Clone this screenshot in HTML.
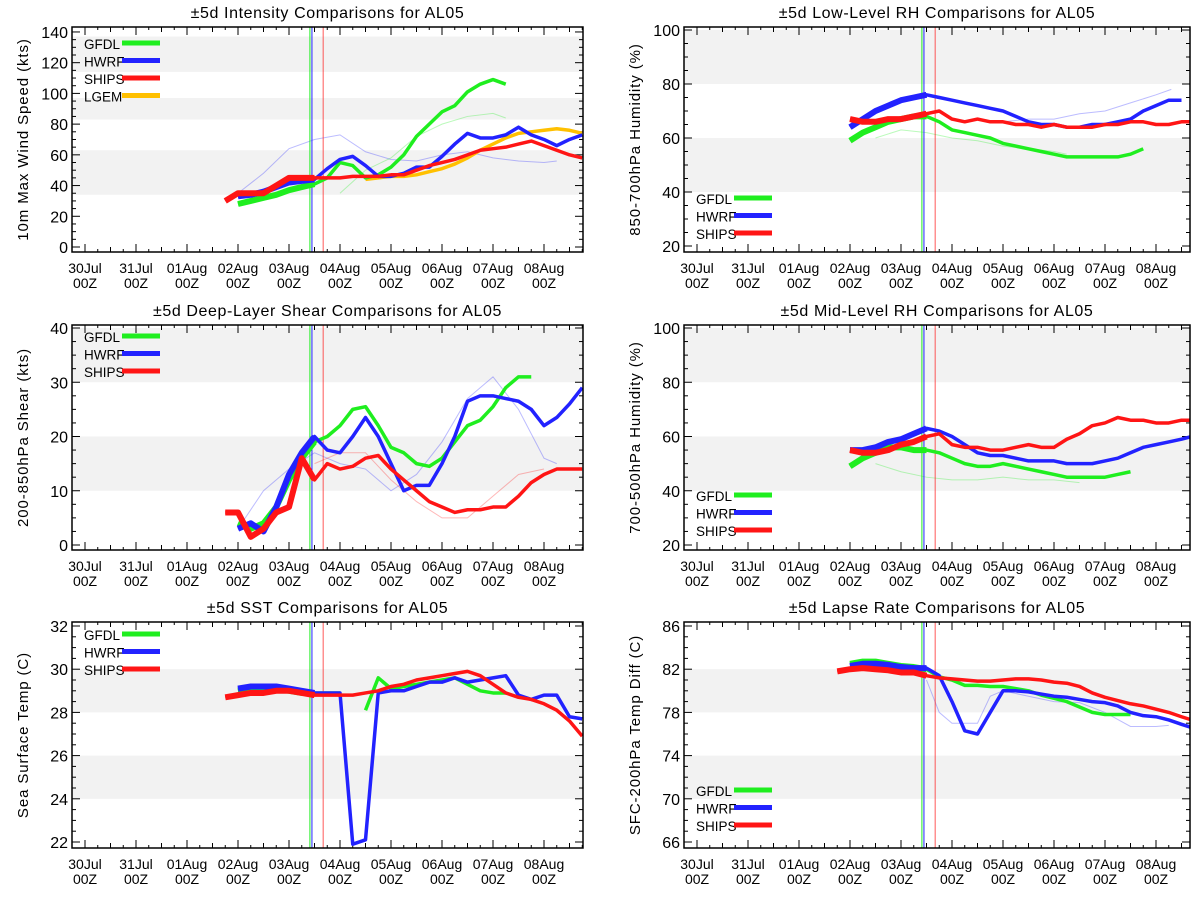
<!DOCTYPE html>
<html><head><meta charset="utf-8">
<style>
html,body{margin:0;padding:0;background:#fff;}
svg{display:block;font-family:"Liberation Sans","DejaVu Sans",sans-serif;}
</style></head>
<body>
<svg id="chart" width="1200" height="900" viewBox="0 0 1200 900" xmlns="http://www.w3.org/2000/svg"></svg>
<script>
// ---------- data (x = days since 30Jul 00Z) ----------
const dayLabels = ["30Jul","31Jul","01Aug","02Aug","03Aug","04Aug","05Aug","06Aug","07Aug","08Aug"];
const vlineDays = [4.41, 4.45, 4.67];

const p1Titles = ["±5d Intensity Comparisons for AL05","10m Max Wind Speed (kts)"];
const p1Ticks = [0,20,40,60,80,100,120,140];
const p1Bands = [[34,63],[83,97],[114,137]];
const p1GFDLx = [3,3.25,3.5,3.75,4,4.25,4.5,4.75,5,5.25,5.5,5.75,6,6.25,6.5,6.75,7,7.25,7.5,7.75,8,8.25];
const p1GFDL = [28,30,32,34,37,39,41,45,55,53,45,47,52,60,72,80,88,92,101,106,109,106];
const p1HWRFx = [3,3.25,3.5,3.75,4,4.25,4.5,4.75,5,5.25,5.5,5.75,6,6.25,6.5,6.75,7,7.25,7.5,7.75,8,8.25,8.5,8.75,9,9.25,9.5,9.75];
const p1HWRF = [33,34,36,39,42,43,44,51,57,59,53,46,46,48,52,52,59,67,74,71,71,73,78,73,70,66,70,73];
const p1SHIPSx = [2.75,3,3.25,3.5,3.75,4,4.25,4.5,4.75,5,5.25,5.5,5.75,6,6.25,6.5,6.75,7,7.25,7.5,7.75,8,8.25,8.5,8.75,9,9.25,9.5,9.75];
const p1SHIPS = [30,35,35,35,40,45,45,45,45,45,46,46,46,47,47,50,53,55,57,60,63,64,65,67,69,66,63,60,58];
const p1LGEMx = [5.5,5.75,6,6.25,6.5,6.75,7,7.25,7.5,7.75,8,8.25,8.5,8.75,9,9.25,9.5,9.75];
const p1LGEM = [44,45,46,46,47,49,51,54,58,63,67,71,74,75,76,77,76,74];
const p1FaintBx = [3,3.5,4,4.5,5,5.5,6,6.5,7,7.5,8,8.5,9,9.25];
const p1FaintB = [35,48,64,70,73,62,57,56,60,62,58,56,55,56];
const p1FaintGx = [5,5.5,6,6.5,7,7.5,8,8.25];
const p1FaintG = [35,50,58,72,80,85,87,84];

const p2Titles = ["±5d Low-Level RH Comparisons for AL05","850-700hPa Humidity (%)"];
const p2Ticks = [20,40,60,80,100];
const p2Bands = [[40,60],[80,100]];
const p2GFDLx = [3,3.25,3.5,3.75,4,4.25,4.5,4.75,5,5.25,5.5,5.75,6,6.25,6.5,6.75,7,7.25,7.5,7.75,8,8.25,8.5,8.75];
const p2GFDL = [59,62,64,66,67,68,68,66,63,62,61,60,58,57,56,55,54,53,53,53,53,53,54,56];
const p2HWRFx = [3,3.25,3.5,3.75,4,4.25,4.5,4.75,5,5.25,5.5,5.75,6,6.25,6.5,6.75,7,7.25,7.5,7.75,8,8.25,8.5,8.75,9,9.25,9.5];
const p2HWRF = [64,67,70,72,74,75,76,75,74,73,72,71,70,68,66,65,65,64,64,65,65,66,67,70,72,74,74];
const p2SHIPSx = [3,3.25,3.5,3.75,4,4.25,4.5,4.75,5,5.25,5.5,5.75,6,6.25,6.5,6.75,7,7.25,7.5,7.75,8,8.25,8.5,8.75,9,9.25,9.5,9.7];
const p2SHIPS = [67,66,66,67,67,68,69,70,67,66,67,66,66,65,65,64,65,64,64,64,65,65,66,66,65,65,66,66];
const p2FaintBx = [6,6.5,7,7.5,8,8.5,9,9.3];
const p2FaintB = [66,67,67,69,70,73,76,78];
const p2FaintGx = [3.5,4,4.5,5,5.5,6,6.5,7,7.25];
const p2FaintG = [60,63,62,60,59,57,56,55,54];

const p3Titles = ["±5d Deep-Layer Shear Comparisons for AL05","200-850hPa Shear (kts)"];
const p3Ticks = [0,10,20,30,40];
const p3Bands = [[10,20],[30,40]];
const p3GFDLx = [3,3.25,3.5,3.75,4,4.25,4.5,4.75,5,5.25,5.5,5.75,6,6.25,6.5,6.75,7,7.25,7.5,7.75,8,8.25,8.5,8.75];
const p3GFDL = [4,3,4,7,12,16,19,20,22,25,25.5,22,18,17,15,14.5,16,19,22,23,25.5,29,31,31];
const p3HWRFx = [3,3.25,3.5,3.75,4,4.25,4.5,4.75,5,5.25,5.5,5.75,6,6.25,6.5,6.75,7,7.25,7.5,7.75,8,8.25,8.5,8.75,9,9.25,9.5,9.75];
const p3HWRF = [3,4,2.5,7,13,17,20,17.5,17,20,23.5,20,15,10,11,11,15,20,26.5,27.5,27.5,27,26.5,25,22,23.5,26,29];
const p3SHIPSx = [2.75,3,3.25,3.5,3.75,4,4.25,4.5,4.75,5,5.25,5.5,5.75,6,6.25,6.5,6.75,7,7.25,7.5,7.75,8,8.25,8.5,8.75,9,9.25,9.5,9.75];
const p3SHIPS = [6,6,1.5,3,6,7,16,12,15,14,14.5,16,16.5,14,12,10,8,7,6,6.5,6.5,7,7,9,11.5,13,14,14,14];
const p3FaintBx = [3,3.5,4,4.5,5,5.5,6,6.5,7,7.5,8,8.5,9,9.25];
const p3FaintB = [3,10,14,17,15,14,10,13,19,27,31,25,16,15];
const p3FaintRx = [4.5,5,5.5,6,6.5,7,7.5,8,8.5,9];
const p3FaintR = [15,17,17,12,8,5,5,9,13,14];

const p4Titles = ["±5d Mid-Level RH Comparisons for AL05","700-500hPa Humidity (%)"];
const p4Ticks = [20,40,60,80,100];
const p4Bands = [[40,60],[80,100]];
const p4GFDLx = [3,3.25,3.5,3.75,4,4.25,4.5,4.75,5,5.25,5.5,5.75,6,6.25,6.5,6.75,7,7.25,7.5,7.75,8,8.25,8.5];
const p4GFDL = [49,52,54,56,56,55,55,54,52,50,49,49,50,49,48,47,46,45,45,45,45,46,47];
const p4HWRFx = [3,3.25,3.5,3.75,4,4.25,4.5,4.75,5,5.25,5.5,5.75,6,6.25,6.5,6.75,7,7.25,7.5,7.75,8,8.25,8.5,8.75,9,9.25,9.5,9.7];
const p4HWRF = [55,55,56,58,59,61,63,62,60,57,54,53,53,52,51,51,51,50,50,50,51,52,54,56,57,58,59,60];
const p4SHIPSx = [3,3.25,3.5,3.75,4,4.25,4.5,4.75,5,5.25,5.5,5.75,6,6.25,6.5,6.75,7,7.25,7.5,7.75,8,8.25,8.5,8.75,9,9.25,9.5,9.7];
const p4SHIPS = [55,54,54,55,57,58,60,61,57,56,56,55,55,56,57,56,56,59,61,64,65,67,66,66,65,65,66,66];
const p4FaintGx = [3.5,4,4.5,5,5.5,6,6.5,7,7.5];
const p4FaintG = [50,47,45,44,44,45,44,44,43];

const p5Titles = ["±5d SST Comparisons for AL05","Sea Surface Temp (C)"];
const p5Ticks = [22,24,26,28,30,32];
const p5Bands = [[24,26],[28,30]];
const p5GFDLx = [3,3.25,3.5,3.75,4,4.25,4.5,4.75,5,null,5.5,5.75,6,6.25,6.5,6.75,7,7.25,7.5,7.75,8,8.25];
const p5GFDL = [29.0,29.1,29.1,29.1,29.0,28.9,28.9,28.9,28.9,null,28.1,29.6,29.1,29.2,29.3,29.4,29.5,29.6,29.3,29.0,28.9,28.9];
const p5HWRFx = [3,3.25,3.5,3.75,4,4.25,4.5,4.75,5,5.25,5.5,5.75,6,6.25,6.5,6.75,7,7.25,7.5,7.75,8,8.25,8.5,8.75,9,9.25,9.5,9.75];
const p5HWRF = [29.1,29.2,29.2,29.2,29.1,29.0,28.9,28.9,28.9,21.9,22.1,28.9,29.0,29.0,29.2,29.4,29.4,29.6,29.4,29.5,29.6,29.7,28.8,28.6,28.8,28.8,27.8,27.7];
const p5SHIPSx = [2.75,3,3.25,3.5,3.75,4,4.25,4.5,4.75,5,5.25,5.5,5.75,6,6.25,6.5,6.75,7,7.25,7.5,7.75,8,8.25,8.5,8.75,9,9.25,9.5,9.75];
const p5SHIPS = [28.7,28.8,28.9,28.9,29.0,29.0,28.9,28.8,28.8,28.8,28.8,28.9,29.0,29.2,29.3,29.5,29.6,29.7,29.8,29.9,29.7,29.3,28.9,28.7,28.6,28.4,28.1,27.6,26.9];

const p6Titles = ["±5d Lapse Rate Comparisons for AL05","SFC-200hPa Temp Diff (C)"];
const p6Ticks = [66,70,74,78,82,86];
const p6Bands = [[70,74],[78,82]];
const p6GFDLx = [3,3.25,3.5,3.75,4,4.25,4.5,4.75,5,5.25,5.5,5.75,6,6.25,6.5,6.75,7,7.25,7.5,7.75,8,8.25,8.5];
const p6GFDL = [82.5,82.7,82.7,82.5,82.3,82.2,82.0,81.3,81.0,80.5,80.5,80.4,80.4,80.2,80.0,79.6,79.3,79.0,78.5,78.0,77.8,77.8,77.8];
const p6HWRFx = [3,3.25,3.5,3.75,4,4.25,4.5,4.75,5,5.25,5.5,5.75,6,6.25,6.5,6.75,7,7.25,7.5,7.75,8,8.25,8.5,8.75,9,9.25,9.5,9.7];
const p6HWRF = [82.3,82.5,82.5,82.4,82.2,82.1,82.1,81.4,79.0,76.3,76.0,78.0,80.0,80.0,79.9,79.7,79.5,79.4,79.2,79.0,78.9,78.6,78.0,77.7,77.6,77.3,76.9,76.6];
const p6SHIPSx = [2.75,3,3.25,3.5,3.75,4,4.25,4.5,4.75,5,5.25,5.5,5.75,6,6.25,6.5,6.75,7,7.25,7.5,7.75,8,8.25,8.5,8.75,9,9.25,9.5,9.7];
const p6SHIPS = [81.8,82.0,82.1,82.0,81.9,81.7,81.7,81.4,81.2,81.1,81.0,80.9,80.9,81.0,81.1,81.1,81.0,80.8,80.7,80.4,79.8,79.4,79.1,78.8,78.6,78.3,78.0,77.6,77.3];
const p6FaintBx = [4.5,4.75,5,5.5,5.75,6,6.5,7,7.5,8,8.5,9,9.25];
const p6FaintB = [81.0,78,77,77,79.5,80,79.5,79,78.9,78,76.7,76.7,76.8];

// ---------- rendering ----------
const NS = "http://www.w3.org/2000/svg";
const svg = document.getElementById("chart");
const COL = {GFDL:"#1fee1f", HWRF:"#2222ff", SHIPS:"#ff1515", LGEM:"#ffc000"};
function el(tag, attrs, parent){const e=document.createElementNS(NS,tag);for(const k in attrs)e.setAttribute(k,attrs[k]);(parent||svg).appendChild(e);return e;}

function panel(cfg){
  const g = el("g",{});
  
  
  const L=cfg.left, R=cfg.right, T=cfg.top, B=cfg.bottom;
  const x0=cfg.x0, dx=51;
  const X = d => x0 + d*dx;
  const Y = v => cfg.yAt0 - (v - cfg.ymin)*cfg.ppu;
  cfg.bands.forEach(b=>{
    const r = el("rect",{x:L,y:Math.max(T,Y(b[1])),width:R-L,height:Math.min(B,Y(b[0]))-Math.max(T,Y(b[1])),fill:"#f2f2f2"},g);
    
    
  });
  const t = el("text",{x:(L+R)/2,y:T-9,"text-anchor":"middle","font-size":"16",fill:"#000","letter-spacing":"0.6"},g);
  t.textContent = cfg.titles[0];
  
  
  const yt = el("text",{x:0,y:0,"text-anchor":"middle","font-size":"15",fill:"#000","letter-spacing":"0.9",transform:`translate(${L-44},${(T+B)/2}) rotate(-90)`},g);
  yt.textContent = cfg.titles[1];
  
  
  const step = cfg.ticks[1]-cfg.ticks[0];
  cfg.ticks.forEach((v,i)=>{
    const y=Y(v);
    el("line",{x1:L,x2:L+8,y1:y,y2:y,stroke:"#000","stroke-width":1},g);
    el("line",{x1:R,x2:R-8,y1:y,y2:y,stroke:"#000","stroke-width":1},g);
    for(let m=1;m<4;m++){const ym=Y(v+step*m/4); if(ym>T&&ym<B){el("line",{x1:L,x2:L+4,y1:ym,y2:ym,stroke:"#000"},g);el("line",{x1:R,x2:R-4,y1:ym,y2:ym,stroke:"#000"},g);}}
    const lbl=el("text",{x:L-4,y:y+6,"text-anchor":"end","font-size":"16",fill:"#000"},g);
    lbl.textContent=v;
    
    
  });
  for(let d=0; d<=9.75; d+=0.25){
    const x=X(d); if(x<L||x>R) continue;
    const len = (d%1===0)?8:((d%0.5===0)?5:3);
    el("line",{x1:x,x2:x,y1:B,y2:B-len,stroke:"#000"},g);
    el("line",{x1:x,x2:x,y1:T,y2:T+len,stroke:"#000"},g);
  }
  dayLabels.forEach((lab,i)=>{
    const x=X(i);
    const a=el("text",{x:x,y:B+21,"text-anchor":"middle","font-size":"14",fill:"#000"},g);
    a.textContent=lab;
    
    
    const b=el("text",{x:x,y:B+36,"text-anchor":"middle","font-size":"14",fill:"#000"},g);
    b.textContent="00Z";
    
    
  });
  const clipId = "clip_"+cfg.name;
  const cp = el("clipPath",{id:clipId},g); el("rect",{x:L,y:T,width:R-L,height:B-T},cp);
  const plot = el("g",{"clip-path":`url(#${clipId})`},g);
  (cfg.faint||[]).forEach(f=>{
    const pts=f.xs.map((d,i)=>X(d)+","+Y(f.ys[i])).join(" ");
    const p=el("polyline",{points:pts,fill:"none",stroke:COL[f.m],"stroke-width":1,opacity:0.3},plot);
    
    
  });
  [["GFDL",vlineDays[0]],["HWRF",vlineDays[1]],["SHIPS",vlineDays[2]]].forEach(v=>{
    const l=el("line",{x1:X(v[1]),x2:X(v[1]),y1:T,y2:B,stroke:COL[v[0]],"stroke-width":1,opacity:v[0]==="SHIPS"?0.7:1},plot);
    
    
  });
  cfg.series.forEach(s=>{
    const segs=[[]];
    s.xs.forEach((d,i)=>{ if(d===null||s.ys[i]===null){segs.push([]);} else segs[segs.length-1].push([d,s.ys[i]]); });
    segs.forEach(seg=>{
      if(seg.length<2) return;
      const p=el("polyline",{points:seg.map(q=>X(q[0])+","+Y(q[1])).join(" "),fill:"none",stroke:COL[s.m],"stroke-width":3.5,"stroke-linejoin":"round"},plot);
      
      
      const thick=seg.filter(q=>q[0]<=4.5);
      if(thick.length>1){
        const p2=el("polyline",{points:thick.map(q=>X(q[0])+","+Y(q[1])).join(" "),fill:"none",stroke:COL[s.m],"stroke-width":6,"stroke-linejoin":"round"},plot);
        
        
      }
    });
  });
  el("rect",{x:L,y:T,width:R-L,height:B-T,fill:"none",stroke:"#000","stroke-width":1.5},g);
  cfg.legend.models.forEach((m,i)=>{
    const y=cfg.legend.y+i*17.5;
    const tx=el("text",{x:cfg.legend.x,y:y+6,"font-size":"13.5",fill:"#000"},g);
    tx.textContent=m;
    
    
    const ln=el("line",{x1:cfg.legend.x+38,x2:cfg.legend.x+76,y1:y,y2:y,stroke:COL[m],"stroke-width":5},g);
    
    
  });
}

const LEFT={left:72,right:583,x0:85}, RIGHT={left:684,right:1190,x0:697};
panel(Object.assign({name:"intensity-panel",top:27,bottom:252,ymin:0,yAt0:247,ppu:1.536,titles:p1Titles,ticks:p1Ticks,bands:p1Bands,
  series:[{m:"LGEM",xs:p1LGEMx,ys:p1LGEM},{m:"GFDL",xs:p1GFDLx,ys:p1GFDL},{m:"HWRF",xs:p1HWRFx,ys:p1HWRF},{m:"SHIPS",xs:p1SHIPSx,ys:p1SHIPS}],
  faint:[{m:"HWRF",xs:p1FaintBx,ys:p1FaintB},{m:"GFDL",xs:p1FaintGx,ys:p1FaintG}],
  legend:{x:84,y:43,models:["GFDL","HWRF","SHIPS","LGEM"]}},LEFT));
panel(Object.assign({name:"low-level-rh-panel",top:27,bottom:252,ymin:20,yAt0:246,ppu:2.7,titles:p2Titles,ticks:p2Ticks,bands:p2Bands,
  series:[{m:"GFDL",xs:p2GFDLx,ys:p2GFDL},{m:"HWRF",xs:p2HWRFx,ys:p2HWRF},{m:"SHIPS",xs:p2SHIPSx,ys:p2SHIPS}],
  faint:[{m:"HWRF",xs:p2FaintBx,ys:p2FaintB},{m:"GFDL",xs:p2FaintGx,ys:p2FaintG}],
  legend:{x:696,y:198,models:["GFDL","HWRF","SHIPS"]}},RIGHT));
panel(Object.assign({name:"shear-panel",top:325,bottom:550,ymin:0,yAt0:545,ppu:5.425,titles:p3Titles,ticks:p3Ticks,bands:p3Bands,
  series:[{m:"GFDL",xs:p3GFDLx,ys:p3GFDL},{m:"HWRF",xs:p3HWRFx,ys:p3HWRF},{m:"SHIPS",xs:p3SHIPSx,ys:p3SHIPS}],
  faint:[{m:"HWRF",xs:p3FaintBx,ys:p3FaintB},{m:"SHIPS",xs:p3FaintRx,ys:p3FaintR}],
  legend:{x:84,y:336,models:["GFDL","HWRF","SHIPS"]}},LEFT));
panel(Object.assign({name:"mid-level-rh-panel",top:325,bottom:550,ymin:20,yAt0:545,ppu:2.7125,titles:p4Titles,ticks:p4Ticks,bands:p4Bands,
  series:[{m:"GFDL",xs:p4GFDLx,ys:p4GFDL},{m:"HWRF",xs:p4HWRFx,ys:p4HWRF},{m:"SHIPS",xs:p4SHIPSx,ys:p4SHIPS}],
  faint:[{m:"GFDL",xs:p4FaintGx,ys:p4FaintG}],
  legend:{x:696,y:495,models:["GFDL","HWRF","SHIPS"]}},RIGHT));
panel(Object.assign({name:"sst-panel",top:622,bottom:848,ymin:22,yAt0:842,ppu:21.6,titles:p5Titles,ticks:p5Ticks,bands:p5Bands,
  series:[{m:"GFDL",xs:p5GFDLx,ys:p5GFDL},{m:"HWRF",xs:p5HWRFx,ys:p5HWRF},{m:"SHIPS",xs:p5SHIPSx,ys:p5SHIPS}],
  faint:[],
  legend:{x:84,y:634,models:["GFDL","HWRF","SHIPS"]}},LEFT));
panel(Object.assign({name:"lapse-rate-panel",top:622,bottom:848,ymin:66,yAt0:842,ppu:10.8,titles:p6Titles,ticks:p6Ticks,bands:p6Bands,
  series:[{m:"GFDL",xs:p6GFDLx,ys:p6GFDL},{m:"HWRF",xs:p6HWRFx,ys:p6HWRF},{m:"SHIPS",xs:p6SHIPSx,ys:p6SHIPS}],
  faint:[{m:"HWRF",xs:p6FaintBx,ys:p6FaintB}],
  legend:{x:696,y:790,models:["GFDL","HWRF","SHIPS"]}},RIGHT));
</script>
</body></html>
